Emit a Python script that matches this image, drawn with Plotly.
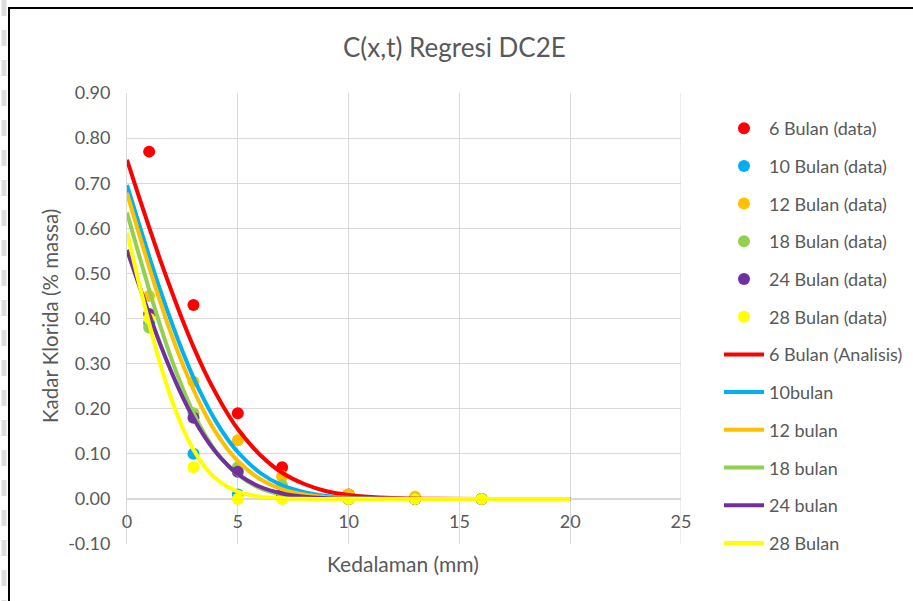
import plotly.graph_objects as go

# Measured chloride content (% massa) at each depth (mm)
depth = [1, 3, 5, 7, 10, 13, 16]
data_6 = [0.77, 0.43, 0.19, 0.07, 0.01, 0.00, 0.00]
data_10 = [0.39, 0.10, 0.01, 0.01, 0.00, 0.00, 0.00]
data_12 = [0.45, 0.26, 0.13, 0.05, 0.01, 0.005, 0.00]
data_18 = [0.38, 0.19, 0.07, 0.03, 0.00, 0.00, 0.00]
data_24 = [0.41, 0.18, 0.06, 0.01, 0.00, 0.00, 0.00]
data_28 = [0.40, 0.07, 0.00, 0.00, 0.00, 0.00, 0.00]

# Regression (analytical) profiles
x_model = [0, 0.5, 1, 1.5, 2, 2.5, 3, 3.5, 4, 4.5, 5, 6, 7, 8, 9, 10, 12, 14, 17, 20]
model_6 = [0.752, 0.676, 0.602, 0.530, 0.462, 0.397, 0.337, 0.283, 0.235, 0.192, 0.155,
           0.098, 0.058, 0.033, 0.017, 0.0087, 0.0018, 0.0003, 0.0, 0.0]
model_10 = [0.696, 0.616, 0.538, 0.463, 0.393, 0.328, 0.269, 0.218, 0.173, 0.135, 0.104,
            0.058, 0.030, 0.015, 0.0066, 0.0028, 0.0003, 0.0, 0.0, 0.0]
model_12 = [0.678, 0.595, 0.514, 0.437, 0.365, 0.300, 0.242, 0.191, 0.148, 0.113, 0.084,
            0.044, 0.021, 0.0097, 0.0038, 0.0014, 0.0001, 0.0, 0.0, 0.0]
model_18 = [0.635, 0.548, 0.464, 0.384, 0.311, 0.247, 0.191, 0.144, 0.106, 0.0765, 0.054,
            0.024, 0.010, 0.0037, 0.0012, 0.0003, 0.0, 0.0, 0.0, 0.0]
model_24 = [0.552, 0.480, 0.410, 0.343, 0.282, 0.227, 0.179, 0.138, 0.104, 0.077, 0.055,
            0.027, 0.012, 0.0047, 0.0017, 0.0005, 0.0, 0.0, 0.0, 0.0]
model_28 = [0.590, 0.487, 0.389, 0.299, 0.222, 0.159, 0.109, 0.072, 0.045, 0.028, 0.016,
            0.0048, 0.0011, 0.0002, 0.0, 0.0, 0.0, 0.0, 0.0, 0.0]

data_names = ["6 Bulan (data)", "10 Bulan (data)", "12 Bulan (data)",
              "18 Bulan (data)", "24 Bulan (data)", "28 Bulan (data)"]
model_names = ["6 Bulan (Analisis)", "10bulan", "12 bulan", "18 bulan", "24 bulan", "28 Bulan"]
colors = ["#FF0000", "#00B0F0", "#FFC000", "#92D050", "#7030A0", "#FFFF00"]

y_tickvals = [-0.1, 0.0, 0.1, 0.2, 0.3, 0.4, 0.5, 0.6, 0.7, 0.8, 0.9]
y_ticktext = ["-0.10", "0.00", "0.10", "0.20", "0.30", "0.40",
              "0.50", "0.60", "0.70", "0.80", "0.90"]

FONT = "Lato"
GREY = "#595959"

# pixel helpers for the 913x601 canvas (plot area 127..681 x 93..544)
def px_x(p):
    return (p - 127) / 554


def px_y(p):
    return (544 - p) / 451


fig = go.Figure()

for i, (name, ys) in enumerate(zip(data_names,
                                   [data_6, data_10, data_12, data_18, data_24, data_28])):
    fig.add_trace(go.Scatter(
        x=depth, y=ys, mode="markers", name=name, legendgroup=f"g{i}",
        marker=dict(color=colors[i], size=12, line=dict(width=0)),
        cliponaxis=False,
    ))

for i, (name, ys) in enumerate(zip(model_names,
                                   [model_6, model_10, model_12, model_18, model_24, model_28])):
    fig.add_trace(go.Scatter(
        x=x_model, y=ys, mode="lines", name=name, legendgroup=f"h{i}",
        line=dict(color=colors[i], width=4, shape="spline", smoothing=1.0),
    ))

fig.update_layout(
    width=913, height=601,
    margin=dict(l=127, r=232, t=93, b=57, autoexpand=False),
    paper_bgcolor="white", plot_bgcolor="white",
    font=dict(family=FONT, color=GREY, size=18),
    showlegend=True,
    legend=dict(
        x=px_x(719), y=px_y(110), xanchor="left", yanchor="top",
        font=dict(family=FONT, size=18, color=GREY),
        tracegroupgap=11.3, itemwidth=40, bgcolor="rgba(0,0,0,0)",
        traceorder="grouped", maxheight=590,
    ),
    xaxis=dict(
        range=[0, 25], dtick=5, tick0=0,
        showgrid=True, gridcolor="#D9D9D9", gridwidth=1,
        zeroline=False, showline=True, linecolor="#D9D9D9", linewidth=1,
        anchor="free", position=45 / 451,
        ticks="", ticklabelstandoff=6,
        tickfont=dict(family=FONT, size=18, color=GREY),
    ),
    yaxis=dict(
        range=[-0.1, 0.9], tickmode="array", tickvals=y_tickvals, ticktext=y_ticktext,
        showgrid=True, gridcolor="#D9D9D9", gridwidth=1,
        zeroline=False, showline=True, linecolor="#D9D9D9", linewidth=1,
        ticks="", ticklabelstandoff=12,
        tickfont=dict(family=FONT, size=18, color=GREY),
    ),
)

# right edge gridline at x = 25
fig.add_shape(type="line", xref="x", yref="y", x0=25, x1=25, y0=-0.1, y1=0.9,
              line=dict(color="#D9D9D9", width=1), layer="below")

# faint grey marks along the page edge, left of the frame
fig.add_shape(type="line", xref="paper", yref="paper",
              x0=px_x(4), x1=px_x(4), y0=px_y(0), y1=px_y(601),
              line=dict(color="#DDDDDD", width=5, dash="16px,14px"), layer="below")

# chart frame (white card with a black edge)
fig.add_shape(type="rect", xref="paper", yref="paper",
              x0=px_x(9), x1=px_x(925), y0=px_y(615), y1=px_y(8),
              line=dict(color="#000000", width=2), fillcolor="white", layer="below")

fig.add_annotation(text="C(x,t) Regresi DC2E", xref="paper", yref="paper",
                   x=px_x(454), y=px_y(47), xanchor="center", yanchor="middle",
                   showarrow=False, font=dict(family=FONT, size=26, color=GREY))
fig.add_annotation(text="Kedalaman (mm)", xref="paper", yref="paper",
                   x=px_x(403), y=px_y(563), xanchor="center", yanchor="middle",
                   showarrow=False, font=dict(family=FONT, size=21, color=GREY))
fig.add_annotation(text="Kadar Klorida (% massa)", xref="paper", yref="paper",
                   x=px_x(50), y=px_y(316), xanchor="center", yanchor="middle",
                   showarrow=False, textangle=-90,
                   font=dict(family=FONT, size=20.5, color=GREY))

fig.write_html("out.html")
